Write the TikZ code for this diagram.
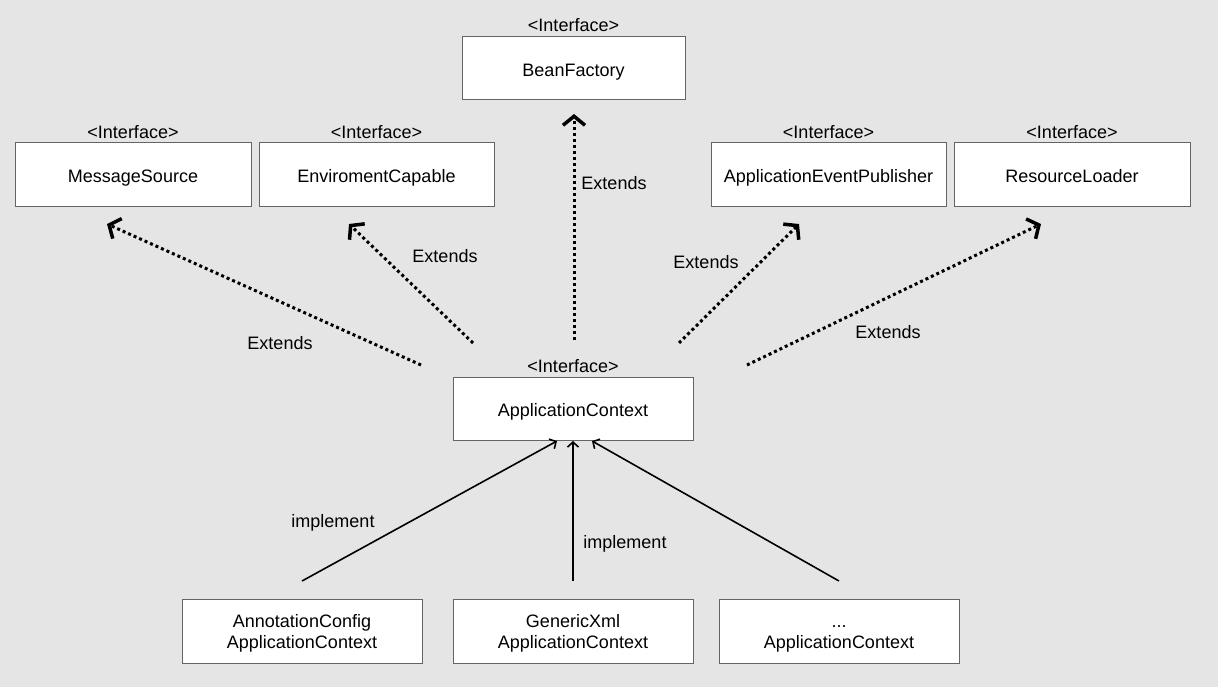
\documentclass[tikz,border=0pt]{standalone}
\usepackage{fontspec}
\setmainfont{Liberation Sans}
\usetikzlibrary{arrows.meta}
\definecolor{bgc}{RGB}{229,229,229}
\definecolor{boxline}{RGB}{100,100,100}
\tikzset{
  box/.style={draw=boxline, line width=1pt, fill=white, minimum width=236pt, minimum height=64pt, inner sep=0pt, align=center, font=\fontsize{18}{20.5}\selectfont, text height=16pt, text depth=0pt},
  box2/.style={box, text height=34pt, text depth=0pt},
  ifl/.style={font=\fontsize{18}{22}\selectfont, inner sep=0pt},
  lbl/.style={font=\fontsize{18}{22}\selectfont, inner sep=0pt},
  extends/.style={line width=3pt, dash pattern=on 3pt off 3pt, -{Straight Barb[length=9pt,width=22pt,line width=3.5pt]}},
  impl/.style={line width=1.6pt, -{Straight Barb[length=5pt,width=11pt,line width=1.6pt]}}
}
\begin{document}
\begin{tikzpicture}[x=1pt,y=-1pt]
\fill[bgc] (0,0) rectangle (1218,687);
\useasboundingbox (0,0) rectangle (1218,687);

% boxes
\node[box, minimum width=223pt, minimum height=63pt] (bf) at (573.5,68.5) {BeanFactory};
\node[box] (ms) at (133,175) {MessageSource};
\node[box, minimum width=235pt] (ec) at (376.5,175) {EnviromentCapable};
\node[box, minimum width=235pt] (aep) at (828.5,175) {ApplicationEventPublisher};
\node[box] (rl) at (1072,175) {ResourceLoader};
\node[box, minimum width=240pt, minimum height=63pt] (ac) at (573,408.5) {ApplicationContext};
\node[box2, minimum width=240pt] (anno) at (302,631) {AnnotationConfig\\ApplicationContext};
\node[box2, minimum width=240pt] (gx) at (573,631) {GenericXml\\ApplicationContext};
\node[box2, minimum width=240pt] (etc) at (839,631) {...\\ApplicationContext};

% interface labels
\node[ifl] (ibf) at (573.5,25) {<Interface>};
\node[ifl] (ims) at (133,132) {<Interface>};
\node[ifl] (iec) at (376.5,132) {<Interface>};
\node[ifl] (iaep) at (828.5,132) {<Interface>};
\node[ifl] (irl) at (1072,132) {<Interface>};
\node[ifl] (iac) at (573,366) {<Interface>};

% extends arrows
\coordinate (sbf) at (574,340);  \coordinate (tbf) at (574,114);
\coordinate (sms) at (421,365);  \coordinate (tms) at (107,224);
\coordinate (sec) at (473,343);  \coordinate (tec) at (349,224);
\coordinate (saep) at (679,343); \coordinate (taep) at (799,224);
\coordinate (srl) at (747,365);  \coordinate (trl) at (1041,224);
\draw[extends] (sbf) -- (tbf);
\draw[extends] (sms) -- (tms);
\draw[extends] (sec) -- (tec);
\draw[extends] (saep) -- (taep);
\draw[extends] (srl) -- (trl);
\node[lbl] (lbf) at (614,183) {Extends};
\node[lbl] (lms) at (280,343) {Extends};
\node[lbl] (lec) at (445,256) {Extends};
\node[lbl] (laep) at (706,262) {Extends};
\node[lbl] (lrl) at (888,332) {Extends};

% implement arrows
\coordinate (s1) at (302,581); \coordinate (t1) at (557,441);
\coordinate (s2) at (573,581); \coordinate (t2) at (573,441);
\coordinate (s3) at (839,581); \coordinate (t3) at (592,441);
\draw[impl] (s1) -- (t1);
\draw[impl] (s2) -- (t2);
\draw[impl] (s3) -- (t3);
\node[lbl] (li1) at (333,523) {implement};
\node[lbl] (li2) at (625,544) {implement};
\end{tikzpicture}
\end{document}
